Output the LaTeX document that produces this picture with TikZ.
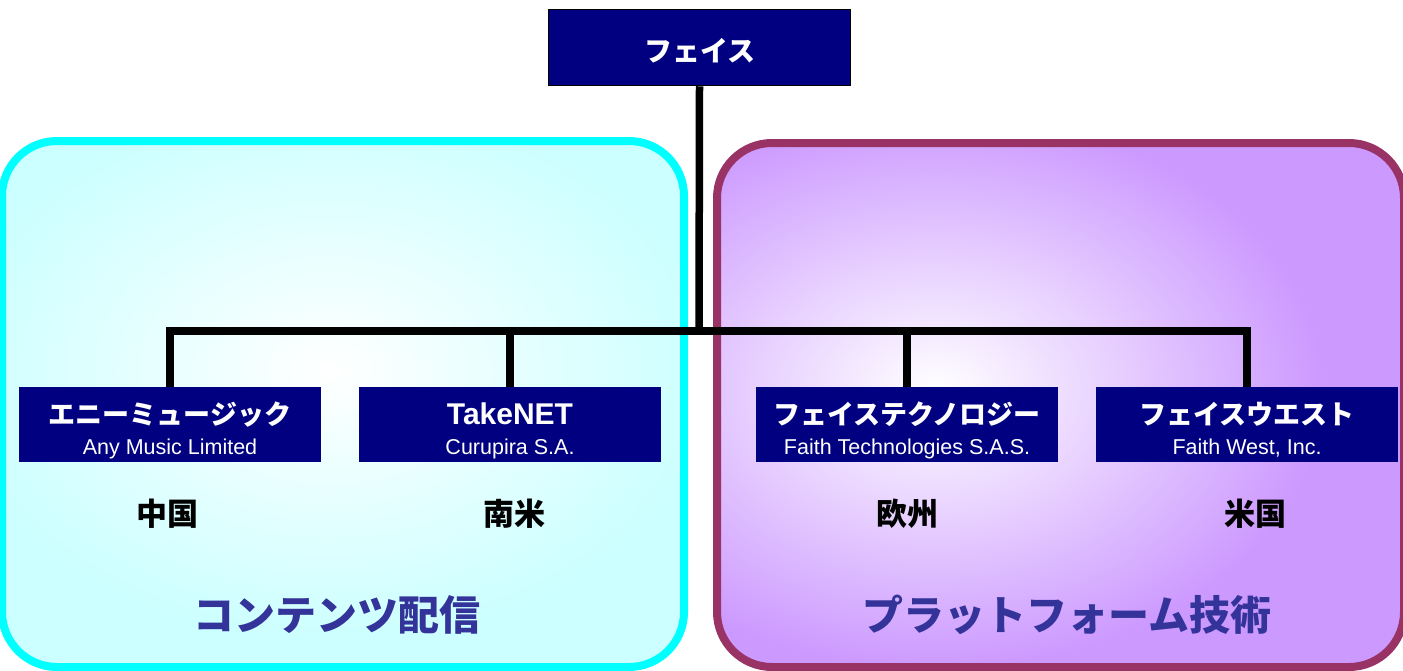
\documentclass[tikz,border=0pt]{standalone}
\usepackage{fontspec}
\setmainfont{Liberation Sans}
\newfontfamily\jp{Noto Sans CJK JP}
\definecolor{navy}{HTML}{000080}
\definecolor{cyanfill}{HTML}{CCFFFF}
\definecolor{cyanline}{HTML}{00FFFF}
\definecolor{purfill}{HTML}{CC99FF}
\definecolor{purline}{HTML}{993366}
\definecolor{lblue}{HTML}{333399}
\tikzset{
  regionline/.style={line width=8pt, rounded corners=55pt},
  conn/.style={line width=7.5pt, black, line join=miter},
  topbox/.style={draw=black, line width=1.5pt, fill=navy, minimum width=302pt, minimum height=76pt, inner sep=0pt},
  cbox/.style={fill=navy, minimum width=302pt, minimum height=75pt, inner sep=0pt},
  ttl/.style={anchor=base, text=white, font=\jp\bfseries\fontsize{27}{30}\selectfont, inner sep=0pt},
  ttllat/.style={anchor=base, text=white, font=\bfseries\fontsize{30}{33}\selectfont, inner sep=0pt},
  sub/.style={anchor=base, text=white, font=\fontsize{21.5}{24}\selectfont, inner sep=0pt},
  area/.style={anchor=base, text=black, font=\jp\bfseries\fontsize{31}{34}\selectfont, inner sep=0pt},
  big/.style={anchor=base, text=lblue, font=\jp\bfseries\fontsize{41}{45}\selectfont, inner sep=0pt},
}
\begin{document}
\begin{tikzpicture}[x=1pt,y=-1pt]
\useasboundingbox (0,0) rectangle (1403,670);
% left region
\begin{scope}
  \clip[rounded corners=55pt] (2,141) rectangle (684,667);
  \fill[cyanfill] (-10,130) rectangle (700,690);
  \shade[inner color=white, outer color=cyanfill] (330,370) ellipse [x radius=380, y radius=270];
\end{scope}
\draw[regionline, cyanline] (2,141) rectangle (684,667);
% right region
\begin{scope}
  \clip[rounded corners=55pt] (717,143) rectangle (1404,667);
  \fill[purfill] (700,130) rectangle (1420,690);
  \shade[inner color=white, outer color=purfill] (935,390) ellipse [x radius=390, y radius=280];
\end{scope}
\draw[regionline, purline] (717,143) rectangle (1404,667);

% boxes
\node[topbox] (top) at (699.5,47.5) {};
\node[ttl, font=\jp\bfseries\fontsize{28}{30}\selectfont] (toptxt) at (700,61) {フェイス};

\node[cbox] (c1) at (170,424.5) {};
\node[cbox] (c2) at (510,424.5) {};
\node[cbox] (c3) at (907,424.5) {};
\node[cbox] (c4) at (1247,424.5) {};

\node[ttl] (t1) at (170,424) {エニーミュージック};
\node[sub] (s1) at (170,454) {Any Music Limited};
\node[ttllat] (t2) at (510,424) {TakeNET};
\node[sub] (s2) at (510,454) {Curupira S.A.};
\node[ttl] (t3) at (907,424) {フェイステクノロジー};
\node[sub] (s3) at (907,454) {Faith Technologies S.A.S.};
\node[ttl] (t4) at (1247,424) {フェイスウエスト};
\node[sub] (s4) at (1247,454) {Faith West, Inc.};

% area labels
\node[area] (a1) at (167,525) {中国};
\node[area] (a2) at (514,525) {南米};
\node[area] (a3) at (907,525) {欧州};
\node[area] (a4) at (1255,525) {米国};

\node[big] (g1) at (337,630) {コンテンツ配信};
\node[big] (g2) at (1067,630) {プラットフォーム技術};

% connectors
\coordinate (bus) at (699,331);
\draw[conn] (top.south) -- (bus);
\draw[conn] (c1.north) |- (bus);
\draw[conn] (c2.north) |- (bus);
\draw[conn] (c3.north) |- (bus);
\draw[conn] (c4.north) |- (bus);
\end{tikzpicture}
\end{document}
